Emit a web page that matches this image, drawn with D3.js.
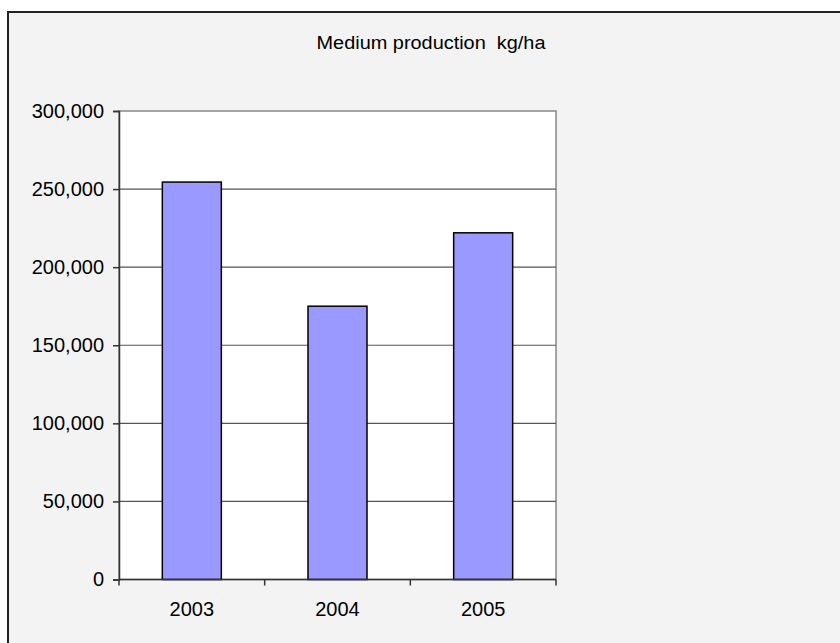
<!DOCTYPE html>
<html>
<head>
<meta charset="utf-8">
<script src="https://cdn.jsdelivr.net/npm/d3@7"></script>
<style>
  html, body { margin: 0; padding: 0; background: #fff; }
  svg { display: block; font-family: "Liberation Sans", Arial, sans-serif; }
  .title { white-space: pre; }
</style>
</head>
<body>
<div id="chart"></div>
<script>
const years = ["2003", "2004", "2005"];
const production = [254500, 175000, 222000];
const yTicks = [0, 50000, 100000, 150000, 200000, 250000, 300000];
const title = "Medium production  kg/ha";

const width = 840;
const height = 643;
const margin = { top: 111, right: 284, bottom: 63.5, left: 119 };

const svg = d3.select("#chart")
  .append("svg")
  .attr("width", width)
  .attr("height", height);

// chart area background + frame
svg.append("rect")
  .attr("x", 8)
  .attr("y", 12)
  .attr("width", width)
  .attr("height", height)
  .attr("fill", "#f3f3f3")
  .attr("stroke", "#222")
  .attr("stroke-width", 2);

const x = d3.scaleBand()
  .domain(years)
  .range([margin.left, width - margin.right])
  .paddingInner(0.595)
  .paddingOuter(0.2975);

const y = d3.scaleLinear()
  .domain([0, 300000])
  .range([height - margin.bottom, margin.top]);

// plot area
svg.append("rect")
  .attr("x", margin.left)
  .attr("y", margin.top)
  .attr("width", width - margin.right - margin.left)
  .attr("height", y(0) - margin.top)
  .attr("fill", "#fff")
  .attr("stroke", "#888")
  .attr("stroke-width", 1.5);

// gridlines
svg.append("g")
  .selectAll("line")
  .data(yTicks.filter((d) => d > 0 && d < 300000))
  .join("line")
  .attr("x1", margin.left)
  .attr("x2", width - margin.right)
  .attr("y1", (d) => y(d))
  .attr("y2", (d) => y(d))
  .attr("stroke", "#555")
  .attr("stroke-width", 1.2);

// bars
svg.append("g")
  .selectAll("rect")
  .data(production)
  .join("rect")
  .attr("x", (d, i) => x(years[i]))
  .attr("y", (d) => y(d))
  .attr("width", x.bandwidth())
  .attr("height", (d) => y(0) - y(d))
  .attr("fill", "#9999ff")
  .attr("stroke", "#000")
  .attr("stroke-width", 1.5);

// y axis
const yAxis = svg.append("g")
  .attr("transform", `translate(${margin.left},0)`)
  .call(
    d3.axisLeft(y)
      .tickValues(yTicks)
      .tickSize(6)
      .tickPadding(9)
      .tickFormat(d3.format(","))
  );

// x axis with ticks at the category boundaries
const xAxisG = svg.append("g")
  .attr("transform", `translate(0,${y(0)})`);
const bounds = d3.range(years.length + 1).map((i) => margin.left + i * (width - margin.right - margin.left) / years.length);
xAxisG.append("line")
  .attr("x1", margin.left)
  .attr("x2", width - margin.right)
  .attr("stroke", "#333")
  .attr("stroke-width", 1.5);
xAxisG.selectAll(".bt")
  .data(bounds)
  .join("line")
  .attr("class", "bt")
  .attr("x1", (d) => d)
  .attr("x2", (d) => d)
  .attr("y1", 0)
  .attr("y2", 6)
  .attr("stroke", "#333")
  .attr("stroke-width", 1.5);
xAxisG.selectAll("text")
  .data(years)
  .join("text")
  .attr("x", (d) => x(d) + x.bandwidth() / 2)
  .attr("y", 36)
  .attr("text-anchor", "middle")
  .attr("font-size", 20)
  .attr("fill", "#000")
  .text((d) => d);

yAxis.select(".domain").attr("stroke", "#333").attr("stroke-width", 1.5);
yAxis.selectAll(".tick line").attr("stroke", "#333").attr("stroke-width", 1.5);
yAxis.selectAll(".tick text")
  .attr("font-size", 20)
  .attr("fill", "#000")
  .attr("font-family", "\"Liberation Sans\", Arial, sans-serif");

// title
svg.append("text")
  .attr("class", "title")
  .attr("x", 431)
  .attr("y", 49)
  .attr("text-anchor", "middle")
  .attr("font-size", 18)
  .attr("textLength", 229)
  .attr("lengthAdjust", "spacingAndGlyphs")
  .attr("fill", "#000")
  .text(title);
</script>
</body>
</html>
